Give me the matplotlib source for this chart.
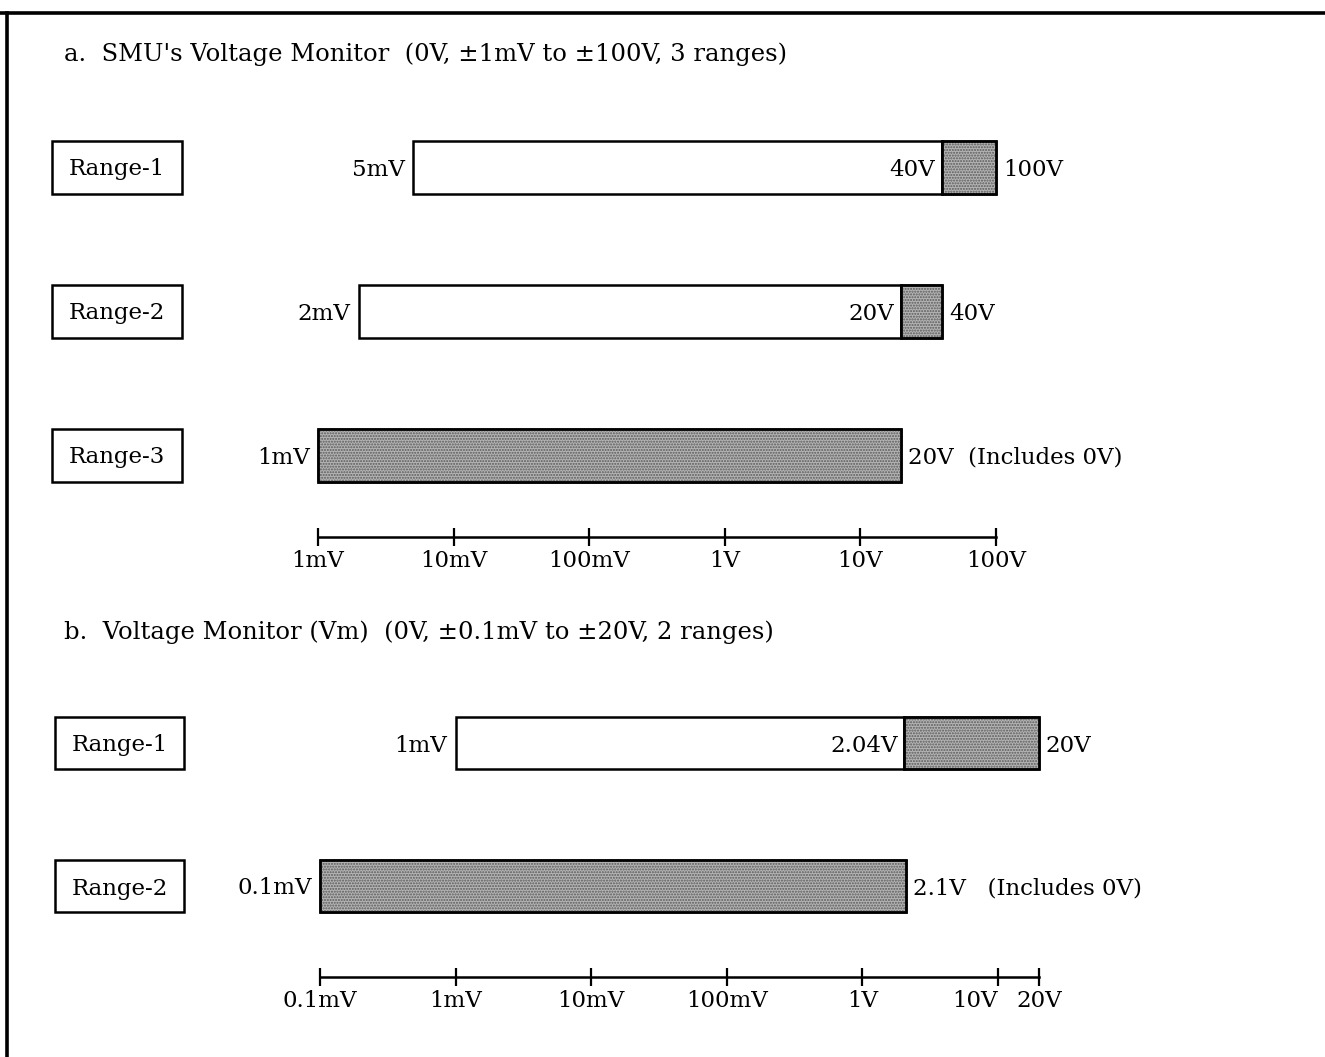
import matplotlib
matplotlib.use('Agg')
import matplotlib.pyplot as plt
from matplotlib.patches import Rectangle
from matplotlib.lines import Line2D
from matplotlib.transforms import blended_transform_factory
import numpy as np

plt.rcParams['font.family'] = ['DejaVu Serif']
plt.rcParams['hatch.linewidth'] = 1.0

# ---------------- data ----------------
a_title = "a.  SMU's Voltage Monitor  (0V, \u00b11mV to \u00b1100V, 3 ranges)"
a_ranges = ['Range-1', 'Range-2', 'Range-3']
a_start = [5e-3, 2e-3, 1e-3]
a_split = [40, 20, None]
a_end = [100, 40, 20]
a_start_labels = ['5mV', '2mV', '1mV']
a_split_labels = ['40V', '20V', None]
a_end_labels = ['100V', '40V', '20V  (Includes 0V)']
a_ticks = [1e-3, 1e-2, 1e-1, 1, 10, 100]
a_tick_labels = ['1mV', '10mV', '100mV', '1V', '10V', '100V']

b_title = "b.  Voltage Monitor (Vm)  (0V, \u00b10.1mV to \u00b120V, 2 ranges)"
b_ranges = ['Range-1', 'Range-2']
b_start = [1e-3, 1e-4]
b_split = [2.04, None]
b_end = [20, 2.1]
b_start_labels = ['1mV', '0.1mV']
b_split_labels = ['2.04V', None]
b_end_labels = ['20V', '2.1V   (Includes 0V)']
b_ticks = [1e-4, 1e-3, 1e-2, 1e-1, 1, 10, 20]
b_tick_labels = ['0.1mV', '1mV', '10mV', '100mV', '1V', '10V', '20V']

# ---------------- layout ----------------
W, H = 1325, 1057
FS = 16.5
TFS = 17.5
GRAY = '#b4b4b4'
fig = plt.figure(figsize=(W / 100, H / 100), dpi=100)
fig.patch.set_facecolor('white')

PX_DEC = 135.6  # pixels per decade


def make_section(x0_px, x0_log, row0_px, row_step, ruler_px, box_x, box_w,
                 title, title_y, ranges, start, split, end, sl, spl, el,
                 ticks, tlabels, bar_h_px):
    ax = fig.add_axes([0, 0, 1, 1])
    ax.patch.set_alpha(0)
    ax.set_xscale('log')
    ax.set_xlim(10 ** (x0_log - x0_px / PX_DEC), 10 ** (x0_log + (W - x0_px) / PX_DEC))
    ax.set_ylim((H - row0_px) / row_step, -row0_px / row_step)
    h = bar_h_px / row_step
    rows = np.arange(len(ranges))
    tr = blended_transform_factory(fig.transFigure, ax.transData)
    for i in rows:
        s, sp, e = start[i], split[i], end[i]
        if sp is not None:
            ax.barh(i, sp - s, left=s, height=h, color='white', edgecolor='black', lw=1.8, zorder=2)
            gs = sp
        else:
            gs = s
        ax.barh(i, e - gs, left=gs, height=h, color=GRAY, edgecolor='black', lw=1.8, zorder=2)
        ax.barh(i, e - gs, left=gs, height=h, color='none', edgecolor='#5a5a5a', lw=0,
                hatch='......', zorder=3)
        ax.barh(i, e - gs, left=gs, height=h, color='none', edgecolor='black', lw=1.8, zorder=4)
        ax.annotate(sl[i], xy=(s, i), xytext=(-6, 0), textcoords='offset points',
                    ha='right', va='center_baseline', fontsize=FS)
        if spl[i] is not None:
            ax.annotate(spl[i], xy=(sp, i), xytext=(-5, 0), textcoords='offset points',
                        ha='right', va='center_baseline', fontsize=FS)
        ax.annotate(el[i], xy=(e, i), xytext=(5, 0), textcoords='offset points',
                    ha='left', va='center_baseline', fontsize=FS)
        # range box
        ax.add_patch(Rectangle((box_x / W, i - h / 2), box_w / W, h, transform=tr,
                               facecolor='white', edgecolor='black', lw=1.8, clip_on=False))
        ax.text((box_x + box_w / 2) / W, i, ranges[i], transform=tr, ha='center',
                va='center_baseline', fontsize=FS)
    # ruler
    for sp_name in ['top', 'left', 'right']:
        ax.spines[sp_name].set_visible(False)
    ax.spines['bottom'].set_position(('data', (ruler_px - row0_px) / row_step))
    ax.spines['bottom'].set_bounds(ticks[0], ticks[-1])
    ax.spines['bottom'].set_linewidth(1.8)
    ax.set_xticks(ticks, tlabels)
    ax.xaxis.set_minor_locator(matplotlib.ticker.NullLocator())
    ax.tick_params(axis='x', direction='inout', length=13, width=1.6, pad=3, labelsize=FS)
    ax.set_yticks([])
    fig.text(64 / W, 1 - title_y / H, title, ha='left', va='center_baseline', fontsize=TFS)
    return ax


ax_a = make_section(318, -3, 167, 144, 537, 52, 130, a_title, 52, a_ranges, a_start, a_split,
                    a_end, a_start_labels, a_split_labels, a_end_labels, a_ticks, a_tick_labels, 53)
ax_b = make_section(320, -4, 743, 143, 977, 55, 129, b_title, 630, b_ranges, b_start, b_split,
                    b_end, b_start_labels, b_split_labels, b_end_labels, b_ticks, b_tick_labels, 52)
ax_b.get_xticklabels()[5].set_ha('right')

# frame lines
fig.add_artist(Line2D([0, 1], [1 - 13 / H] * 2, transform=fig.transFigure, color='black', lw=2.6))
fig.add_artist(Line2D([7 / W] * 2, [0, 1 - 13 / H], transform=fig.transFigure, color='black', lw=2.6))

fig.savefig('out.png', dpi=100, facecolor='white')
